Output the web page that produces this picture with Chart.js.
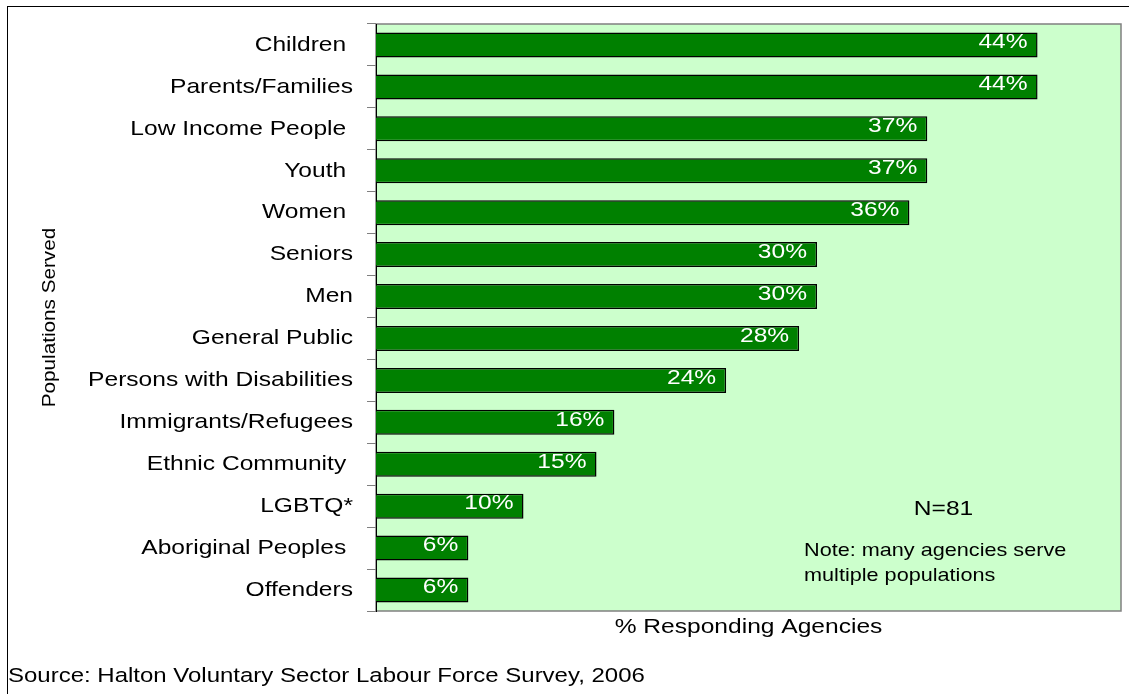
<!DOCTYPE html>
<html>
<head>
<meta charset="utf-8">
<title>Populations Served</title>
<script src="https://cdn.jsdelivr.net/npm/chart.js@4.4.0/dist/chart.umd.min.js"></script>
<style>
  html, body { margin: 0; padding: 0; background: #ffffff; }
  canvas { display: block; }
</style>
</head>
<body>
<canvas id="chart" width="1129" height="694"></canvas>
<script>
// Populations served by responding agencies (share of agencies, %)
const populations = [
  'Children ', 'Parents/Families', 'Low Income People ', 'Youth ', 'Women ',
  'Seniors', 'Men', 'General Public', 'Persons with Disabilities',
  'Immigrants/Refugees', 'Ethnic Community ', 'LGBTQ*', 'Aboriginal Peoples ', 'Offenders'
];
const pctResponding = [44.4, 44.4, 37.0, 37.0, 35.8, 29.6, 29.6, 28.4, 23.5, 16.0, 14.8, 9.9, 6.2, 6.2];
const axisRange = [0, 50];
const sampleNote = 'N=81';
const noteLines = ['Note: many agencies serve', 'multiple populations'];
const sourceText = 'Source: Halton Voluntary Sector Labour Force Survey, 2006';

const FONT = "'Liberation Sans', Arial, Helvetica, sans-serif";
const TEXT_STRETCH = 1.17; // horizontally expanded lettering

const canvas = document.getElementById('chart');
const ctx2d = canvas.getContext('2d');

// Every string on this canvas is drawn with a widened face:
// the glyphs are scaled along their baseline around the anchor point.
const baseFillText = ctx2d.fillText;
const baseMeasureText = ctx2d.measureText;
ctx2d.fillText = function (text, x, y, maxWidth) {
  this.save();
  this.translate(x, y);
  this.scale(TEXT_STRETCH, 1);
  if (maxWidth === undefined || maxWidth === null) {
    baseFillText.call(this, text, 0, 0);
  } else {
    baseFillText.call(this, text, 0, 0, maxWidth / TEXT_STRETCH);
  }
  this.restore();
};
ctx2d.measureText = function (text) {
  const m = baseMeasureText.call(this, text);
  return {
    width: m.width * TEXT_STRETCH,
    actualBoundingBoxLeft: m.actualBoundingBoxLeft * TEXT_STRETCH,
    actualBoundingBoxRight: m.actualBoundingBoxRight * TEXT_STRETCH,
    actualBoundingBoxAscent: m.actualBoundingBoxAscent,
    actualBoundingBoxDescent: m.actualBoundingBoxDescent,
    fontBoundingBoxAscent: m.fontBoundingBoxAscent,
    fontBoundingBoxDescent: m.fontBoundingBoxDescent
  };
};

// Page frame, light green plot background and its grey outline
const framePlugin = {
  id: 'frame',
  beforeDraw(chart) {
    const { ctx, chartArea: a } = chart;
    ctx.save();
    ctx.fillStyle = '#ffffff';
    ctx.fillRect(0, 0, chart.width, chart.height);
    ctx.strokeStyle = '#000000';
    ctx.lineWidth = 1;
    ctx.strokeRect(7.5, 6.5, chart.width + 20, chart.height + 20);
    ctx.fillStyle = '#CCFFCC';
    ctx.fillRect(a.left, a.top, a.right - a.left, a.bottom - a.top);
    ctx.strokeStyle = '#808080';
    ctx.lineWidth = 1.5;
    ctx.strokeRect(a.left, a.top, a.right - a.left, a.bottom - a.top);
    ctx.restore();
  }
};

// Rounded percentage written inside the end of each bar
const valueLabelPlugin = {
  id: 'valueLabels',
  afterDatasetsDraw(chart) {
    const { ctx } = chart;
    const meta = chart.getDatasetMeta(0);
    const values = chart.data.datasets[0].data;
    ctx.save();
    ctx.font = `21px ${FONT}`;
    ctx.fillStyle = '#ffffff';
    ctx.textAlign = 'right';
    ctx.textBaseline = 'middle';
    meta.data.forEach((bar, i) => {
      ctx.fillText(Math.round(values[i]) + '%', bar.x - 10, bar.y - 2.5);
    });
    ctx.restore();
  }
};

// Sample size and footnote inside the plot area
const notePlugin = {
  id: 'notes',
  afterDraw(chart) {
    const { ctx, chartArea: a } = chart;
    ctx.save();
    ctx.fillStyle = '#000000';
    ctx.textBaseline = 'middle';
    ctx.font = `21px ${FONT}`;
    ctx.textAlign = 'center';
    ctx.fillText(sampleNote, a.right - 177.5, a.bottom - 101.5);
    ctx.font = `18.5px ${FONT}`;
    ctx.textAlign = 'left';
    noteLines.forEach((line, i) => {
      ctx.fillText(line, a.right - 317, a.bottom - 60.5 + i * 25);
    });
    ctx.restore();
  }
};

new Chart(canvas, {
  type: 'bar',
  data: {
    labels: populations,
    datasets: [{
      data: pctResponding,
      backgroundColor: '#008000',
      borderColor: '#000000',
      borderWidth: 1.5,
      barPercentage: 0.596,
      categoryPercentage: 1
    }]
  },
  options: {
    indexAxis: 'y',
    responsive: false,
    devicePixelRatio: 1,
    animation: false,
    events: [],
    layout: { padding: { left: 8, right: 8, top: 24, bottom: 5 } },
    scales: {
      y: {
        type: 'category',
        position: 'left',
        grid: {
          display: true, drawOnChartArea: false, drawTicks: true,
          tickLength: 9, offset: true, color: '#808080', lineWidth: 1
        },
        border: { display: true, color: '#000000', width: 1 },
        ticks: { color: '#000000', font: { family: FONT, size: 21 }, padding: 14, autoSkip: false },
        title: {
          display: true, text: 'Populations Served', color: '#000000',
          font: { family: FONT, size: 17.7 }, padding: { top: 31.5, bottom: 0 }
        },
        afterFit(scale) {
          scale.width = 368;
          scale.paddingTop = 0;
          scale.paddingBottom = 0;
        }
      },
      x: {
        type: 'linear',
        position: 'bottom',
        min: axisRange[0],
        max: axisRange[1],
        grid: { display: false },
        border: { display: false },
        ticks: { display: false },
        title: {
          display: true, text: '% Responding Agencies', color: '#000000',
          font: { family: FONT, size: 21 }, padding: { top: 0, bottom: 24.8 }
        },
        afterFit(scale) {
          scale.height = 53.4;
          scale.paddingLeft = 0;
          scale.paddingRight = 0;
        }
      }
    },
    plugins: {
      legend: { display: false },
      tooltip: { enabled: false },
      title: {
        display: true, text: sourceText, position: 'bottom', align: 'start',
        color: '#000000', font: { family: FONT, size: 20.5, weight: 'normal' }, padding: 0
      }
    }
  },
  plugins: [framePlugin, valueLabelPlugin, notePlugin]
});
</script>
</body>
</html>
